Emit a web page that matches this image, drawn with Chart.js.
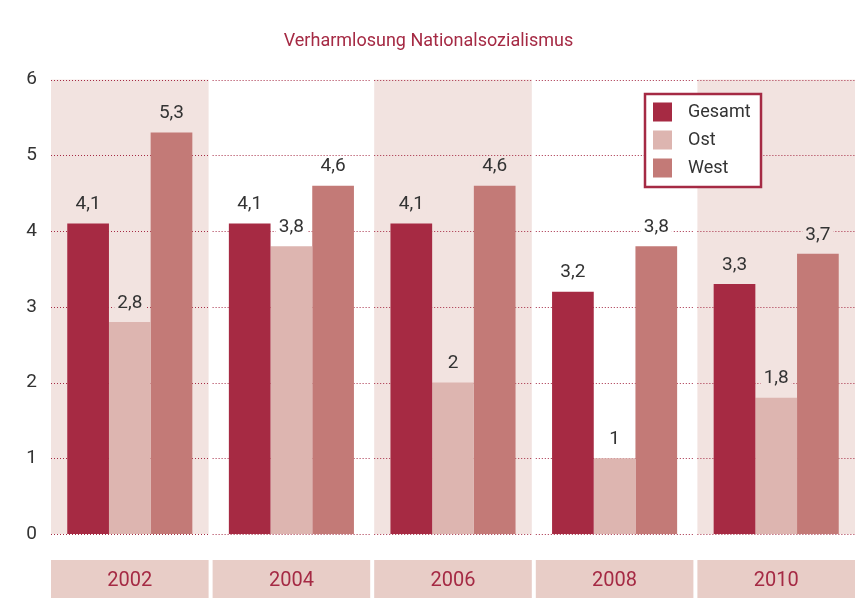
<!DOCTYPE html>
<html>
<head>
<meta charset="utf-8">
<script src="https://cdn.jsdelivr.net/npm/chart.js@4/dist/chart.umd.min.js"></script>
<style>
  html, body { margin: 0; padding: 0; background: #fff; }
  #wrap { width: 857px; height: 611px; }
</style>
</head>
<body>
<div id="wrap"><canvas id="chart"></canvas></div>
<script>
const chart_title = 'Verharmlosung Nationalsozialismus';
const years = ['2002', '2004', '2006', '2008', '2010'];
const gesamt = [4.1, 4.1, 4.1, 3.2, 3.3];
const ost = [2.8, 3.8, 2.0, 1.0, 1.8];
const west = [5.3, 4.6, 4.6, 3.8, 3.7];
const y_ticks = [0, 1, 2, 3, 4, 5, 6];

const crimson = '#a52a44';
const stripe = '#f2e3e0';
const label_box = '#e8cdc7';
const text_color = '#333333';
const font_family = 'Roboto, "Noto Sans", sans-serif';

function column_bounds(chart, i) {
    const x = chart.scales.x;
    const pitch = (chart.chartArea.right - chart.chartArea.left) / years.length;
    const center = x.getPixelForValue(i);
    return { left: center - pitch / 2 + 2, right: center + pitch / 2 - 2 };
}

const backdrop = {
    id: 'backdrop',
    beforeDraw(chart) {
        const ctx = chart.ctx;
        const area = chart.chartArea;
        ctx.save();
        years.forEach((year, i) => {
            const b = column_bounds(chart, i);
            if (i % 2 === 0) {
                ctx.fillStyle = stripe;
                ctx.fillRect(b.left, area.top, b.right - b.left, area.bottom - area.top);
            }
            // category box under the axis
            ctx.fillStyle = label_box;
            ctx.fillRect(b.left, 560, b.right - b.left, 38);
        });
        ctx.restore();
    },
    beforeDatasetsDraw(chart) {
        const ctx = chart.ctx;
        const y = chart.scales.y;
        ctx.save();
        ctx.strokeStyle = crimson;
        ctx.lineWidth = 1;
        ctx.setLineDash([1, 2]);
        y_ticks.forEach(v => {
            const py = Math.round(y.getPixelForValue(v)) + 0.5;
            years.forEach((year, i) => {
                const b = column_bounds(chart, i);
                ctx.beginPath();
                ctx.moveTo(b.left, py);
                ctx.lineTo(b.right, py);
                ctx.stroke();
            });
        });
        ctx.restore();
    },
    afterDatasetsDraw(chart) {
        const ctx = chart.ctx;
        ctx.save();
        ctx.font = '19px ' + font_family;
        ctx.textAlign = 'center';
        ctx.textBaseline = 'middle';
        chart.data.datasets.forEach((ds, di) => {
            chart.getDatasetMeta(di).data.forEach((bar, i) => {
                const ly = bar.y - 19;
                const txt = String(ds.data[i]).replace('.', ',');
                const w = ctx.measureText(txt).width + 6;
                ctx.fillStyle = i % 2 === 0 ? stripe : '#ffffff';
                ctx.fillRect(bar.x - w / 2, ly - 10, w, 20);
                ctx.fillStyle = text_color;
                ctx.fillText(txt, bar.x, ly);
            });
        });

        // legend
        ctx.fillStyle = '#ffffff';
        ctx.fillRect(644, 93, 118, 95);
        ctx.strokeStyle = crimson;
        ctx.lineWidth = 2.5;
        ctx.setLineDash([]);
        ctx.strokeRect(645, 94, 116, 93);
        ctx.font = '18px ' + font_family;
        ctx.textAlign = 'left';
        chart.data.datasets.forEach((ds, di) => {
            const cy = 112 + di * 28;
            ctx.fillStyle = ds.backgroundColor;
            ctx.fillRect(653, cy - 9.5, 19, 19);
            ctx.fillStyle = text_color;
            ctx.fillText(ds.label, 688, cy);
        });
        ctx.restore();
    }
};

new Chart(document.getElementById('chart'), {
    type: 'bar',
    data: {
        labels: years,
        datasets: [
            { label: 'Gesamt', data: gesamt, backgroundColor: '#a62a43' },
            { label: 'Ost', data: ost, backgroundColor: '#ddb5b0' },
            { label: 'West', data: west, backgroundColor: '#c37a77' }
        ]
    },
    options: {
        responsive: true,
        maintainAspectRatio: false,
        animation: false,
        layout: { padding: { left: 0, right: 0, top: 0, bottom: 0 } },
        datasets: {
            bar: { categoryPercentage: 0.774, barPercentage: 1.0 }
        },
        plugins: {
            legend: { display: false },
            tooltip: { enabled: false },
            title: {
                display: true,
                text: chart_title,
                color: crimson,
                font: { family: font_family, size: 18, weight: 'normal' },
                padding: { top: 31, bottom: 27 }
            }
        },
        scales: {
            x: {
                grid: { display: false, drawTicks: false },
                border: { display: false },
                ticks: {
                    color: crimson,
                    font: { family: font_family, size: 20 },
                    padding: 35
                },
                afterFit(scale) { scale.height = 77; }
            },
            y: {
                min: 0,
                max: 6,
                grid: { display: false, drawTicks: false },
                border: { display: false },
                ticks: {
                    stepSize: 1,
                    color: text_color,
                    font: { family: font_family, size: 19 },
                    padding: 12
                },
                afterFit(scale) { scale.width = 49; }
            }
        }
    },
    plugins: [backdrop]
});
</script>
</body>
</html>
